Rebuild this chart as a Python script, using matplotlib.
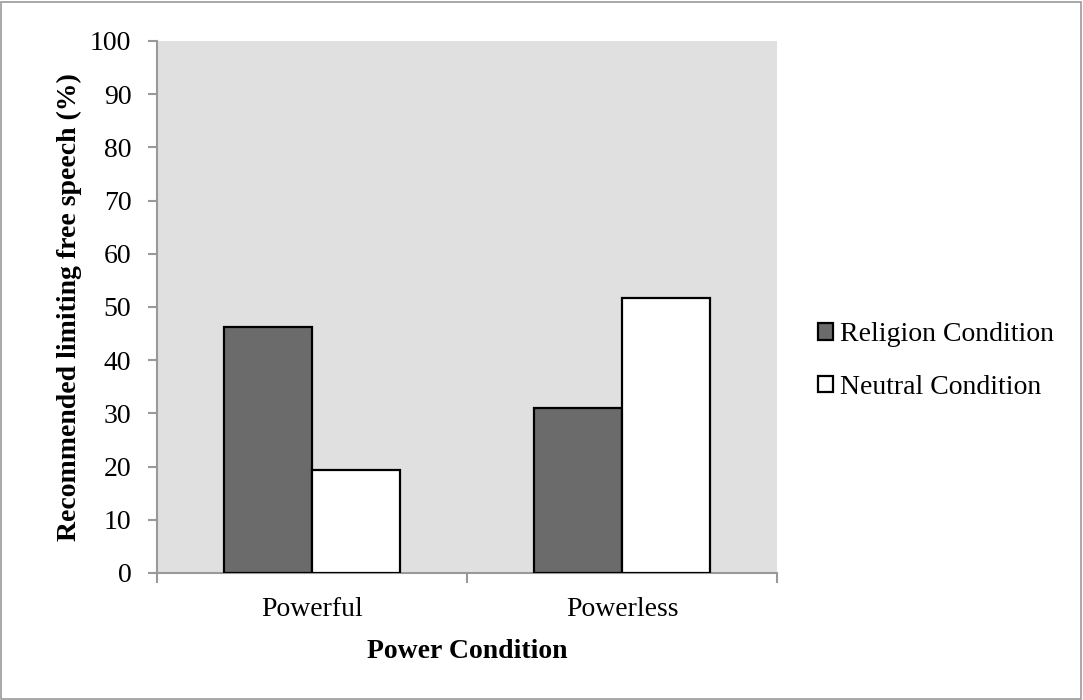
import numpy as np
import matplotlib.pyplot as plt
from matplotlib.patches import Rectangle

categories = ['Powerful', 'Powerless']
religion = [46.3, 31.1]
neutral = [19.4, 51.7]
series_names = ['Religion Condition', 'Neutral Condition']

plt.rcParams['font.family'] = ['Liberation Serif', 'DejaVu Serif']
fs = 20

fig = plt.figure(figsize=(10.83, 7.0), dpi=100)
ax = fig.add_axes([157 / 1083, 1 - 573 / 700, 620 / 1083, 532 / 700])
ax.set_facecolor('#e0e0e0')

x = np.arange(len(categories))
w = 0.284
ax.bar(x - w / 2, religion, w, color='#6b6b6b', edgecolor='black', linewidth=1.6,
       label=series_names[0], zorder=3)
ax.bar(x + w / 2, neutral, w, color='white', edgecolor='black', linewidth=1.6,
       label=series_names[1], zorder=3)

ax.set_xlim(-0.5, len(categories) - 0.5)
ax.set_ylim(0, 100)
ax.set_yticks(np.arange(0, 101, 10))
ax.set_xticks(x)
ax.set_xticklabels(categories)
ax.tick_params(axis='x', length=0, labelsize=fs, pad=17)
ax.set_xticks(np.arange(-0.5, len(categories), 1), minor=True)
ax.tick_params(axis='x', which='minor', length=7, color='#999999', width=1.5)
ax.tick_params(axis='y', length=6.5, color='#999999', width=1.5, labelsize=fs, pad=12)

for s in ['top', 'right']:
    ax.spines[s].set_visible(False)
for s in ['left', 'bottom']:
    ax.spines[s].set_color('#999999')
    ax.spines[s].set_linewidth(1.5)

ax.set_ylabel('Recommended limiting free speech (%)', fontsize=fs, fontweight='bold', labelpad=6)
ax.set_xlabel('Power Condition', fontsize=fs, fontweight='bold', labelpad=12.5)

fig.legend(*ax.get_legend_handles_labels(), loc='center left',
           bbox_to_anchor=(818 / 1083, 1 - 361 / 700), frameon=False, fontsize=fs,
           handlelength=0.55, handleheight=0.55, handletextpad=0.25, labelspacing=1.0,
           borderpad=0, borderaxespad=0)

fig.add_artist(Rectangle((1 / 1083, 1 / 700), 1080 / 1083, 697 / 700, transform=fig.transFigure,
                         fill=False, edgecolor='#999999', linewidth=1.2))

fig.savefig('out.png', dpi=100)
